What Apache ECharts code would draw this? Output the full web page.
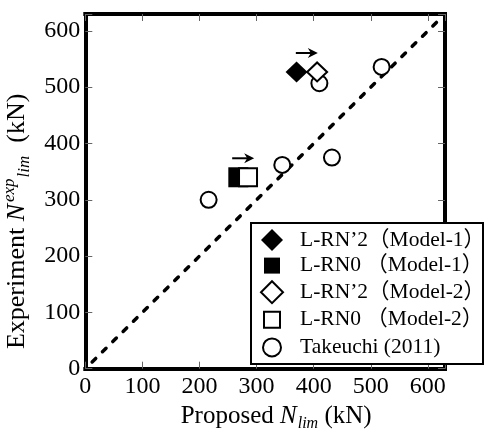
<!DOCTYPE html>
<html>
<head>
<meta charset="utf-8">
<script src="https://cdn.jsdelivr.net/npm/echarts@6/dist/echarts.min.js"></script>
<style>
  html, body { margin: 0; padding: 0; background: #fff; }
  #chart { width: 486px; height: 439px; }
</style>
</head>
<body>
<div id="chart"></div>
<script>
// Specimen results: [proposed N_lim, experimental N_lim], kN
const lrn2Model1 = [[370, 527]];
const lrn0Model1 = [[268, 340]];
const lrn2Model2 = [[406, 527]];
const lrn0Model2 = [[285, 340]];
const takeuchi2011 = [[216, 300], [345, 362], [432, 375], [410, 507], [519, 536]];

// 1:1 line (experiment = proposed)
const equalityLine = [[12, 12], [625, 625]];

// Labelled ticks on both axes
const tickValues = [0, 100, 200, 300, 400, 500, 600];

const seriesNames = [
  'L-RN’2（Model-1）',
  'L-RN0 （Model-1）',
  'L-RN’2（Model-2）',
  'L-RN0 （Model-2）',
  'Takeuchi (2011)'
];

// Arrows marking the shift from Model-1 to Model-2: [x from, x to, y]
const shiftArrows = [
  [lrn2Model1[0][0], lrn2Model2[0][0], lrn2Model1[0][1]],
  [lrn0Model1[0][0], lrn0Model2[0][0], lrn0Model1[0][1]]
];

const SERIF = "'Liberation Serif', 'Times New Roman', 'Noto Sans CJK JP', serif";
const AXIS_MIN = 0, AXIS_MAX = 630, STEP = 100;

const tickLabel = v => (tickValues.indexOf(v) >= 0 ? String(v) : '');

function nameRich(size, small) {
  return {
    t:   { fontFamily: SERIF, fontSize: size, color: '#000', lineHeight: 32 },
    i:   { fontFamily: SERIF, fontSize: size, color: '#000', fontStyle: 'italic', lineHeight: 32 },
    sup: { fontFamily: SERIF, fontSize: small, color: '#000', fontStyle: 'italic', lineHeight: 17, verticalAlign: 'top', padding: [0, 0, 0, 2] },
    sub: { fontFamily: SERIF, fontSize: small, color: '#000', fontStyle: 'italic', lineHeight: 21, verticalAlign: 'bottom', padding: [0, 0, 0, 1] }
  };
}

const frameLine = { show: true, onZero: false, lineStyle: { color: '#000', width: 4, cap: 'square' } };
const innerTick = { show: true, inside: true, length: 7, lineStyle: { color: '#666', width: 1 } };

const baseAxis = {
  type: 'value', min: AXIS_MIN, max: AXIS_MAX, interval: STEP,
  axisLine: frameLine, axisTick: innerTick, splitLine: { show: false }
};

const squareIcon = 'path://M0,0M22,22M3,3L19,3L19,19L3,19Z';
const circleIcon = 'path://M0,0M22,22M20,11A9,9,0,1,1,2,11A9,9,0,1,1,20,11Z';

const chart = echarts.init(document.getElementById('chart'), null, { renderer: 'canvas' });

chart.setOption({
  animation: false,
  backgroundColor: '#fff',
  grid: { left: 85.3, right: 41, top: 14, bottom: 70.3, outerBoundsMode: 'none', containLabel: false },
  xAxis: [
    Object.assign({}, baseAxis, {
      position: 'bottom',
      axisLabel: { margin: 6, fontFamily: SERIF, fontSize: 24, color: '#000', formatter: tickLabel },
      name: '{t|Proposed }{i|N}{sub|lim}{t| (kN)}',
      nameLocation: 'middle',
      nameGap: 25,
      nameTextStyle: { rich: nameRich(25, 16), padding: [0, 0, 0, 22] }
    }),
    Object.assign({}, baseAxis, { position: 'top', axisLabel: { show: false } })
  ],
  yAxis: [
    Object.assign({}, baseAxis, {
      position: 'left',
      axisLabel: { margin: 5, fontFamily: SERIF, fontSize: 24, color: '#000', formatter: tickLabel },
      name: '{t|Experiment }{i|N}{sup|exp}{sub|lim}{t|  (kN)}',
      nameLocation: 'middle',
      nameRotate: 90,
      nameGap: 38,
      nameTextStyle: { rich: nameRich(26, 17), padding: [0, 60, 0, 0] }
    }),
    Object.assign({}, baseAxis, { position: 'right', axisLabel: { show: false } })
  ],
  // legend frame, drawn over the plot frame and under the legend entries
  graphic: [
    {
      type: 'rect', z: 3, silent: true,
      shape: { x: 251, y: 223, width: 232, height: 141 },
      style: { fill: '#fff', stroke: '#000', lineWidth: 2 }
    }
  ],
  legend: {
    orient: 'vertical',
    left: 251,
    top: 223,
    padding: [6, 1, 10, 9],
    itemWidth: 22,
    itemHeight: 22,
    itemGap: 3.6,
    selectedMode: false,
    textStyle: { fontFamily: SERIF, fontSize: 21.5, color: '#000', lineHeight: 22, padding: [0, 0, 0, 12] },
    data: [
      { name: seriesNames[0], icon: 'diamond', itemStyle: { color: '#000', borderWidth: 0 } },
      { name: seriesNames[1], icon: squareIcon, itemStyle: { color: '#000', borderWidth: 0 } },
      { name: seriesNames[2], icon: 'diamond', itemStyle: { color: '#fff', borderColor: '#000', borderWidth: 2 } },
      { name: seriesNames[3], icon: squareIcon, itemStyle: { color: '#fff', borderColor: '#000', borderWidth: 2 } },
      { name: seriesNames[4], icon: circleIcon, itemStyle: { color: '#fff', borderColor: '#000', borderWidth: 2 } }
    ]
  },
  series: [
    {
      type: 'line', data: equalityLine, symbol: 'none', silent: true, z: 1,
      lineStyle: { color: '#000', width: 3.5, type: [5, 9.5], cap: 'round' }
    },
    {
      name: seriesNames[4], type: 'scatter', data: takeuchi2011, z: 2,
      symbol: 'circle', symbolSize: 16,
      itemStyle: { color: '#fff', borderColor: '#000', borderWidth: 2, opacity: 1 }
    },
    {
      name: seriesNames[0], type: 'scatter', data: lrn2Model1, z: 2,
      symbol: 'diamond', symbolSize: [22, 21],
      itemStyle: { color: '#000', opacity: 1 }
    },
    {
      name: seriesNames[1], type: 'scatter', data: lrn0Model1, z: 2,
      symbol: 'rect', symbolSize: 20,
      itemStyle: { color: '#000', opacity: 1 }
    },
    {
      name: seriesNames[2], type: 'scatter', data: lrn2Model2, z: 2,
      symbol: 'diamond', symbolSize: [20, 19],
      itemStyle: { color: '#fff', borderColor: '#000', borderWidth: 2, opacity: 1 }
    },
    {
      name: seriesNames[3], type: 'scatter', data: lrn0Model2, z: 2,
      symbol: 'rect', symbolSize: 18,
      itemStyle: { color: '#fff', borderColor: '#000', borderWidth: 2, opacity: 1 }
    },
    {
      type: 'custom', data: shiftArrows, z: 2, silent: true,
      encode: { x: [0, 1], y: 2 },
      renderItem: function (params, api) {
        const a = api.coord([api.value(0), api.value(2)]);
        const b = api.coord([api.value(1), api.value(2)]);
        const cx = (a[0] + b[0]) / 2;
        const y = a[1] - 19;
        const x0 = cx - 11, x1 = cx + 11;
        return {
          type: 'group',
          children: [
            { type: 'line', shape: { x1: x0, y1: y, x2: x1 - 5, y2: y }, style: { stroke: '#000', lineWidth: 2 } },
            { type: 'polygon', shape: { points: [[x1, y], [x1 - 10, y - 5], [x1 - 7, y], [x1 - 10, y + 5]] }, style: { fill: '#000' } }
          ]
        };
      }
    }
  ]
});
</script>
</body>
</html>
